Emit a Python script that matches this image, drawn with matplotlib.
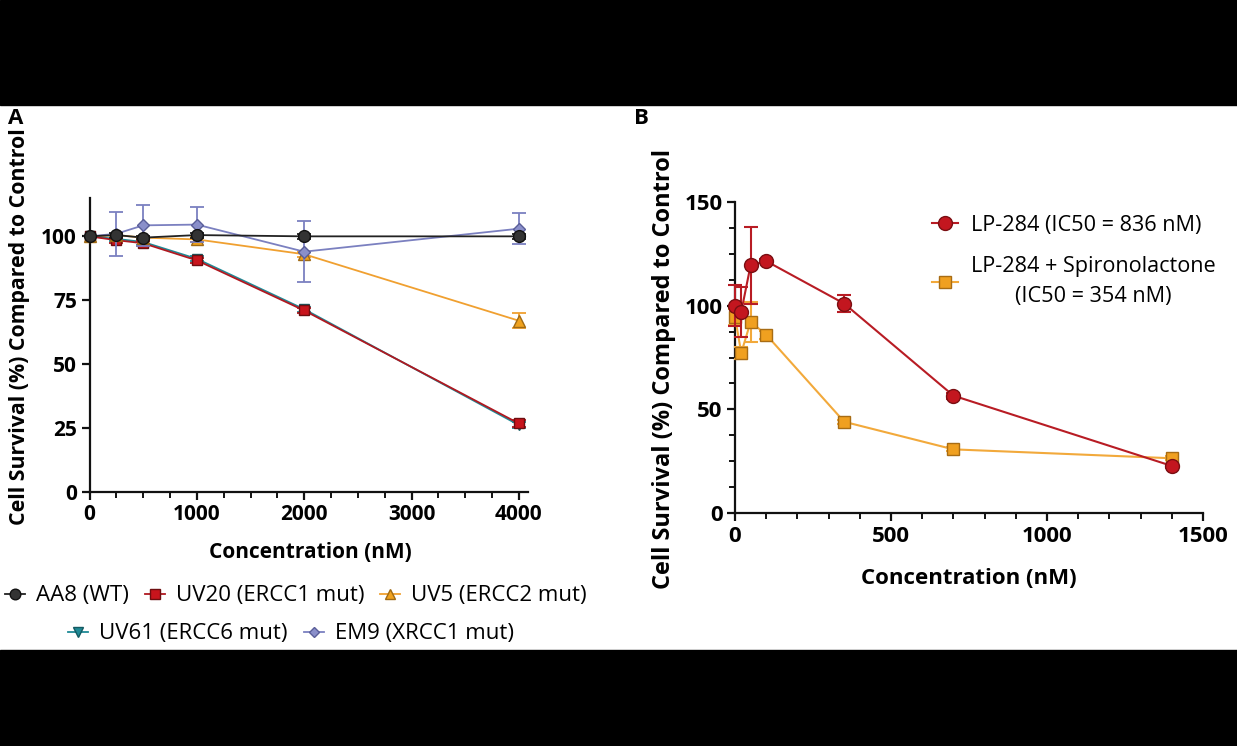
import matplotlib.pyplot as plt
from matplotlib.lines import Line2D
from matplotlib.patches import Rectangle
from matplotlib.ticker import MultipleLocator

plt.rcParams['font.family'] = ['Open Sans', 'DejaVu Sans']

# === PANEL A DATA ===
conc_a = [0, 250, 500, 1000, 2000, 4000]
aa8 = [100, 100.5, 99.5, 100.5, 100, 100]
aa8_err = [0, 1, 0.5, 1, 1, 1]
uv20 = [100, 98.5, 97.3, 90.6, 71, 26.8]
uv20_err = [0, 1, 1, 1, 1, 1.5]
uv5 = [100, 100.5, 99.5, 98.8, 93, 67]
uv5_err = [0, 0.5, 0.5, 1, 1, 3]
uv61 = [100, 99, 97.8, 91.2, 71.5, 26.2]
uv61_err = [0, 1, 1, 1, 1, 1]
em9 = [100, 101, 104.3, 104.6, 94, 103]
em9_err = [0, 8.5, 8, 7, 12, 6]
legend_a_row1 = ["AA8 (WT)", "UV20 (ERCC1 mut)", "UV5 (ERCC2 mut)"]
legend_a_row2 = ["UV61 (ERCC6 mut)", "EM9 (XRCC1 mut)"]

# === PANEL B DATA ===
conc_b = [0, 20, 50, 100, 350, 700, 1400]
lp284 = [100, 97, 119.5, 121.5, 101, 56.6, 22.7]
lp284_err = [10, 12, 18.5, 1, 4, 1.5, 1]
lp284_spiro = [94.6, 77.2, 92.2, 86, 44, 30.7, 26.4]
lp284_spiro_err = [4, 3, 9.5, 2, 1, 1, 1]
legend_b = ["LP-284 (IC50 = 836 nM)", "LP-284 + Spironolactone\n(IC50 = 354 nM)"]

W, H = 1237, 746
fig = plt.figure(figsize=(W / 100, H / 100), dpi=100)
fig.patch.set_facecolor("white")

# black bands top and bottom
fig.patches.append(Rectangle((0, 1 - 105 / H), 1, 105 / H, transform=fig.transFigure, color="black", zorder=0))
fig.patches.append(Rectangle((0, 0), 1, 96 / H, transform=fig.transFigure, color="black", zorder=0))


def style_axis(ax, fs):
    for side in ["top", "right"]:
        ax.spines[side].set_visible(False)
    for side in ["left", "bottom"]:
        ax.spines[side].set_linewidth(1.6)
        ax.spines[side].set_color("#111111")
    ax.tick_params(which="major", length=6, width=1.6, color="#111111", labelsize=fs, pad=3)
    ax.tick_params(which="minor", length=4, width=1.4, color="#111111")
    for lab in ax.get_xticklabels() + ax.get_yticklabels():
        lab.set_fontweight("bold")


# === PANEL A ===
ax1 = fig.add_axes([89.5 / W, 254 / H, (528 - 89.5) / W, 294 / H])
series_a = [
    (uv61, uv61_err, "v", "#1f8a96", "#1f8a96", "#145a62", 7.5),
    (uv20, uv20_err, "s", "#b01820", "#c8141c", "#6e0e10", 7.5),
    (uv5, uv5_err, "^", "#f0a030", "#f0a21e", "#a06a14", 8),
    (em9, em9_err, "D", "#7b80c0", "#8a8fca", "#5a5e99", 6),
    (aa8, aa8_err, "o", "#222222", "#333333", "#111111", 8.5),
]
for i, (vals, err, mk, lc, fc, ec, ms) in enumerate(series_a):
    ax1.errorbar(conc_a, vals, yerr=err, marker=mk, color=lc, mfc=fc, mec=ec, ms=ms,
                 lw=1.3, elinewidth=1.3, capsize=5, capthick=1.3, clip_on=False, zorder=3 + i)
ax1.set_xlim(0, 4085)
ax1.set_ylim(0, 115)
ax1.set_xticks([0, 1000, 2000, 3000, 4000])
ax1.xaxis.set_minor_locator(MultipleLocator(250))
ax1.set_yticks([0, 25, 50, 75, 100])
style_axis(ax1, 15)

fig.text(310 / W, 1 - 552 / H, "Concentration (nM)", ha="center", va="center",
         fontsize=15, fontweight="bold")
fig.text(20 / W, 1 - 327 / H, "Cell Survival (%) Compared to Control", ha="center", va="center",
         rotation=90, fontsize=15.3, fontweight="bold")
fig.text(8 / W, 1 - 118 / H, "A", ha="left", va="center", fontsize=16, fontweight="bold")

# legend A, two centred rows
h_row1 = [Line2D([], [], color=s[3], marker=s[2], mfc=s[4], mec=s[5], ms=s[6] * 0.9, lw=1.3)
          for s in (series_a[4], series_a[1], series_a[2])]
h_row2 = [Line2D([], [], color=s[3], marker=s[2], mfc=s[4], mec=s[5], ms=s[6] * 0.9, lw=1.3)
          for s in (series_a[0], series_a[3])]
leg1 = fig.legend(h_row1, legend_a_row1, loc="center", bbox_to_anchor=(296 / W, 1 - 596 / H),
                  ncol=3, frameon=False, fontsize=16, handlelength=0.9, handletextpad=0.5,
                  columnspacing=0.7, borderpad=0)
leg2 = fig.legend(h_row2, legend_a_row2, loc="center", bbox_to_anchor=(291 / W, 1 - 634 / H),
                  ncol=2, frameon=False, fontsize=16, handlelength=0.9, handletextpad=0.5,
                  columnspacing=0.75, borderpad=0)

# === PANEL B ===
ax2 = fig.add_axes([735 / W, 233 / H, (1203 - 735) / W, 311 / H])
ax2.errorbar(conc_b, lp284_spiro, yerr=lp284_spiro_err, marker="s", color="#f2a93b", mfc="#f0a020",
             mec="#a86c14", ms=9, lw=1.5, elinewidth=1.5, capsize=5, capthick=1.5, clip_on=False,
             zorder=3)
ax2.errorbar(conc_b, lp284, yerr=lp284_err, marker="o", color="#b81c24", mfc="#c3161f",
             mec="#7a0e12", ms=10, lw=1.5, elinewidth=1.5, capsize=5, capthick=1.5, clip_on=False,
             zorder=4)
ax2.set_xlim(0, 1500)
ax2.set_ylim(0, 150)
ax2.set_xticks([0, 500, 1000, 1500])
ax2.xaxis.set_minor_locator(MultipleLocator(100))
ax2.set_yticks([0, 50, 100, 150])
ax2.yaxis.set_minor_locator(MultipleLocator(12.5))
style_axis(ax2, 16)

h_b = [Line2D([], [], color="#b81c24", marker="o", mfc="#c3161f", mec="#7a0e12", ms=10, lw=1.5),
       Line2D([], [], color="#f2a93b", marker="s", mfc="#f0a020", mec="#a86c14", ms=9, lw=1.5)]
legb = fig.legend(h_b, legend_b, loc="upper left", bbox_to_anchor=(921 / W, 1 - 204 / H),
                  frameon=False, fontsize=15.6, handlelength=1.2, handletextpad=0.6,
                  labelspacing=0.95, borderpad=0)
for t in legb.get_texts():
    t.set_multialignment("center")
    t.set_linespacing(1.55)

fig.text(969 / W, 1 - 579 / H, "Concentration (nM)", ha="center", va="center",
         fontsize=16, fontweight="bold")
fig.text(664 / W, 1 - 369 / H, "Cell Survival (%) Compared to Control", ha="center", va="center",
         rotation=90, fontsize=17, fontweight="bold")
fig.text(634 / W, 1 - 118 / H, "B", ha="left", va="center", fontsize=16, fontweight="bold")

fig.savefig("out.png", dpi=100, facecolor=fig.get_facecolor())
